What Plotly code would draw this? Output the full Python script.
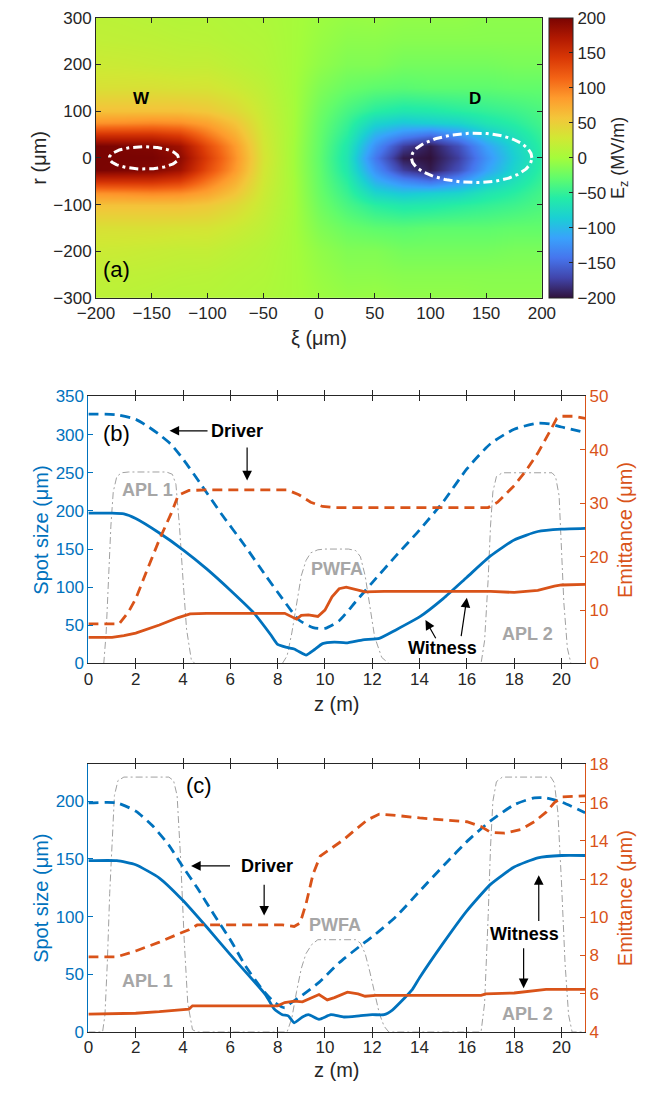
import numpy as np
import plotly.graph_objects as go

W, H = 669, 1098
FONT = "Liberation Sans, Arial, Helvetica, sans-serif"
BLUE = "#0072BD"
ORANGE = "#D95319"
GRAY = "#A0A0A0"
DARK = "#262626"

# ---------------- Panel (a): Ez field (values read on a coarse grid, r >= 0, mirrored) ----------------
xi_vals = [-200, -175, -150, -125, -100, -75, -50, -25, 0, 25, 50, 75, 100, 125, 150, 175, 200]
r_half = [0, 25, 50, 75, 100, 150, 200, 250, 300]
ez_half = [
    [200, 200, 200, 190, 140, 90, 32, 2, -29, -65, -140, -195, -200, -175, -125, -85, -55],
    [200, 198, 195, 180, 130, 85, 30, 2, -28, -62, -125, -175, -195, -165, -115, -80, -52],
    [150, 150, 150, 140, 105, 72, 28, 3, -27, -55, -105, -130, -145, -125, -90, -68, -48],
    [90, 92, 95, 92, 80, 58, 25, 3, -25, -48, -80, -90, -85, -80, -65, -55, -42],
    [60, 60, 60, 60, 55, 42, 22, 3, -22, -40, -55, -62, -60, -55, -50, -45, -38],
    [35, 35, 35, 33, 32, 25, 16, 2, -15, -25, -30, -32, -30, -30, -30, -28, -28],
    [25, 24, 22, 20, 20, 15, 10, 2, -8, -15, -15, -20, -20, -20, -20, -18, -18],
    [18, 17, 16, 14, 13, 10, 8, 2, -5, -10, -10, -12, -12, -12, -12, -12, -12],
    [15, 14, 12, 10, 10, 8, 6, 2, -3, -6, -5, -8, -8, -8, -10, -10, -10],
]
cb_ticks = [-200, -150, -100, -50, 0, 50, 100, 150, 200]

# beam contours: centre xi, left half-width, right half-width, half-height
beam_names = ["W", "D"]
beam_xc = [-157, 142]
beam_left = [31, 59]
beam_right = [31, 49]
beam_hh = [24, 53]

# ---------------- Panel (b) ----------------
bz_drv_spot = [0, 1.2, 2, 2.5, 3, 3.5, 4, 4.8, 5.6, 6.6, 7.5, 8.2, 8.9, 9.5, 10, 10.6, 11.3, 12, 13, 14, 15, 16, 17, 18, 19, 19.5, 20, 21]
b_drv_spot = [327, 326, 320, 311, 300, 287, 268, 233, 197, 155, 115, 85, 57, 47, 46, 56, 81, 106, 141, 175, 212, 255, 288, 307, 315, 314, 310, 303]
bz_wit_spot = [0, 1, 1.5, 2, 3, 4, 5, 6, 7, 7.7, 8, 8.4, 8.7, 9.05, 9.2, 9.55, 9.9, 10.4, 10.9, 11.6, 12.3, 13, 14, 15, 16, 17, 18, 19, 20, 21]
b_wit_spot = [197, 197, 196, 190, 171, 149, 124, 96, 66, 38, 25, 21, 19, 13, 11, 18, 26, 28, 27, 31, 33, 44, 61, 85, 113, 141, 162, 173, 176, 177]
bz_drv_emit = [0, 1.3, 1.7, 2.0, 2.5, 3.0, 3.5, 3.8, 4.25, 5, 8.4, 8.9, 9.4, 9.9, 10.4, 16.9, 17.3, 18, 18.5, 19, 19.5, 19.8, 20, 20.55, 21]
b_drv_emit = [7.4, 7.4, 9.7, 12.1, 17.7, 23.2, 28.1, 31.5, 32.4, 32.5, 32.5, 31.6, 30.2, 29.4, 29.2, 29.2, 30.2, 33.3, 36.1, 39.4, 43.4, 45.9, 46.3, 46.3, 45.9]
bz_wit_emit = [0, 1, 1.5, 2, 3, 3.8, 4.3, 5, 8.3, 8.6, 8.8, 9.0, 9.3, 9.7, 10.0, 10.3, 10.6, 10.9, 11.3, 11.7, 12.5, 16.5, 17, 18, 19, 19.7, 20, 21]
b_wit_emit = [4.9, 4.9, 5.2, 5.7, 7.2, 8.6, 9.3, 9.4, 9.4, 8.8, 8.3, 9.0, 9.1, 8.8, 10.0, 12.5, 14.0, 14.3, 13.8, 13.4, 13.5, 13.6, 13.5, 13.3, 13.7, 14.5, 14.7, 14.8]
bz_prof = [0, 0.65, 0.75, 0.85, 0.95, 1.05, 1.2, 1.4, 1.7, 3.3, 3.55, 3.7, 3.85, 4.0, 4.15, 4.35, 4.5,
           8.2, 8.4, 8.6, 8.8, 9.0, 9.2, 9.4, 9.7, 10.0, 11.0, 11.3, 11.5, 11.7, 11.9, 12.1, 12.4, 12.7,
           16.6, 16.75, 16.9, 17.0, 17.1, 17.25, 17.5, 19.6, 19.75, 19.9, 20.0, 20.1, 20.25, 20.4, 21]
b_prof = [0, 0, 40, 110, 180, 225, 245, 250, 251, 251, 248, 235, 180, 110, 45, 5, 0,
          0, 10, 40, 80, 115, 135, 145, 149, 150, 150, 148, 140, 115, 75, 35, 8, 0,
          0, 30, 110, 180, 225, 245, 250, 250, 245, 220, 150, 80, 20, 0, 0]

# ---------------- Panel (c) ----------------
cz_drv_spot = [0, 1.2, 2.0, 2.7, 3.4, 4.0, 4.6, 5.3, 6.0, 6.65, 7.35, 7.85, 8.3, 8.55, 9.05, 9.75, 10.6, 11.45, 12.15, 13, 14, 15.05, 16.1, 17, 18, 18.85, 19.35, 20.05, 21]
c_drv_spot = [198.6, 198.6, 191.5, 179, 162, 143, 125, 102, 80, 57, 37, 26, 21, 25, 32, 43, 60, 74, 85, 100, 122, 145, 167, 183, 197, 203, 203, 199, 190]
cz_wit_spot = [0, 1.2, 2, 3, 4, 5, 6, 7, 7.5, 7.85, 8.2, 8.45, 8.7, 9.05, 9.3, 9.75, 10.25, 10.8, 11.45, 12, 12.5, 12.85, 13.2, 13.7, 14, 15, 16, 17, 18, 19, 20, 21]
c_wit_spot = [148.5, 148.5, 145, 133.5, 114, 91, 67, 44, 32, 20, 15, 14, 8, 13, 15, 11, 15, 13, 14, 15, 15, 19, 26, 37, 47, 77, 105, 128, 143, 151, 153, 153]
cz_drv_emit = [0, 1.2, 2, 3, 3.75, 4.25, 4.6, 5.6, 8.2, 8.7, 8.95, 9.2, 9.5, 9.8, 10.25, 10.8, 11.3, 11.8, 12.3, 12.85, 14, 16, 16.6, 17, 17.6, 18.3, 18.85, 19.35, 19.7, 20.05, 21]
c_drv_emit = [7.93, 7.93, 8.24, 8.7, 9.1, 9.35, 9.6, 9.6, 9.6, 9.52, 9.7, 10.7, 12.27, 13.2, 13.6, 14.07, 14.6, 15.1, 15.4, 15.35, 15.2, 15.0, 14.75, 14.45, 14.4, 14.6, 15.0, 15.5, 16.0, 16.3, 16.35]
cz_wit_emit = [0, 2, 3, 4, 4.25, 4.4, 6, 8, 8.3, 8.7, 9.05, 9.4, 9.75, 10.1, 10.4, 10.95, 11.4, 11.7, 12.15, 16.6, 16.8, 18, 18.65, 19.35, 21]
c_wit_emit = [4.93, 4.98, 5.06, 5.18, 5.2, 5.37, 5.37, 5.37, 5.54, 5.61, 5.58, 5.75, 5.96, 5.68, 5.8, 6.08, 5.99, 5.87, 5.92, 5.92, 5.99, 6.04, 6.13, 6.23, 6.23]
cz_prof = [0, 0.6, 0.7, 0.8, 0.9, 1.0, 1.1, 1.25, 1.5, 3.4, 3.6, 3.75, 3.9, 4.05, 4.2, 4.4, 4.6,
           8.4, 8.6, 8.8, 9.0, 9.2, 9.45, 9.7, 11.3, 11.5, 11.7, 11.9, 12.1, 12.3, 12.5, 12.7,
           16.6, 16.75, 16.9, 17.0, 17.1, 17.25, 17.5, 19.55, 19.7, 19.85, 20.0, 20.15, 20.3, 20.45, 21]
c_prof = [0, 0, 15, 60, 120, 170, 205, 218, 221, 221, 218, 205, 150, 80, 25, 2, 0,
          0, 12, 35, 55, 68, 76, 80, 80, 77, 68, 52, 34, 16, 5, 0,
          0, 25, 100, 160, 200, 217, 221, 221, 216, 190, 130, 60, 15, 0, 0]

z_ticks = list(range(0, 21, 2))

# ---------------- build figure ----------------
fig = go.Figure()

r_full = [-v for v in r_half[::-1]] + r_half[1:]
ez_full = ez_half[::-1] + ez_half[1:]

fig.add_trace(go.Heatmap(
    x=xi_vals, y=r_full, z=ez_full, zsmooth="best",
    colorscale="Turbo", zmin=-200, zmax=200, xaxis="x", yaxis="y",
    colorbar=dict(
        x=558 / W, xanchor="left", y=1 - 9 / H, yanchor="top",
        len=285 / H, lenmode="fraction", thickness=24, thicknessmode="pixels",
        xpad=0, ypad=0, outlinewidth=1, outlinecolor=DARK,
        tickvals=cb_ticks, ticks="inside", ticklen=4, tickcolor=DARK,
        tickfont=dict(family=FONT, size=17, color=DARK),
        title=dict(text="E<sub>z</sub> (MV/m)", side="right",
                   font=dict(family=FONT, size=18, color=DARK)),
    ),
    showscale=True,
))

t = np.linspace(0, 2 * np.pi, 200)
for i in range(len(beam_names)):
    half_w = np.where(np.cos(t) >= 0, beam_right[i], beam_left[i])
    ex = beam_xc[i] + half_w * np.cos(t)
    ey = beam_hh[i] * np.sin(t)
    fig.add_trace(go.Scatter(x=ex, y=ey, mode="lines", xaxis="x", yaxis="y",
                             line=dict(color="white", width=3, dash="9px,4px,3px,4px"),
                             showlegend=False, hoverinfo="skip"))

def add_panel(xa, yl, yr, zp, prof, zds, dspot, zws, wspot, zde, demit, zwe, wemit):
    fig.add_trace(go.Scatter(x=zp, y=prof, mode="lines", xaxis=xa, yaxis=yl,
                             line=dict(color=GRAY, width=1, dash="7px,3px,2px,3px"),
                             showlegend=False))
    fig.add_trace(go.Scatter(x=zds, y=dspot, mode="lines", xaxis=xa, yaxis=yl,
                             line=dict(color=BLUE, width=2.8, dash="10px,6px", shape="spline", smoothing=0.6),
                             showlegend=False))
    fig.add_trace(go.Scatter(x=zws, y=wspot, mode="lines", xaxis=xa, yaxis=yl,
                             line=dict(color=BLUE, width=2.8, shape="spline", smoothing=0.5),
                             showlegend=False))
    fig.add_trace(go.Scatter(x=zde, y=demit, mode="lines", xaxis=xa, yaxis=yr,
                             line=dict(color=ORANGE, width=2.8, dash="10px,6px"),
                             showlegend=False))
    fig.add_trace(go.Scatter(x=zwe, y=wemit, mode="lines", xaxis=xa, yaxis=yr,
                             line=dict(color=ORANGE, width=2.8),
                             showlegend=False))

add_panel("x2", "y2", "y3", bz_prof, b_prof, bz_drv_spot, b_drv_spot, bz_wit_spot, b_wit_spot,
          bz_drv_emit, b_drv_emit, bz_wit_emit, b_wit_emit)
add_panel("x3", "y4", "y5", cz_prof, c_prof, cz_drv_spot, c_drv_spot, cz_wit_spot, c_wit_spot,
          cz_drv_emit, c_drv_emit, cz_wit_emit, c_wit_emit)

tickf = dict(family=FONT, size=17, color=DARK)
titlef = dict(family=FONT, size=20, color=DARK)

common_x = dict(ticks="inside", ticklen=5, tickcolor=DARK, showline=True, linecolor=DARK,
                linewidth=1, mirror="allticks", showgrid=False, zeroline=False, tickfont=tickf)

ax_b = [0.10912, 0.89013]
layout = dict(
    width=W, height=H, margin=dict(l=0, r=0, t=0, b=0),
    paper_bgcolor="white", plot_bgcolor="white", showlegend=False,
    font=dict(family=FONT, color=DARK),
    xaxis=dict(domain=[81 / W, 550 / W], anchor="y", range=[-200, 200],
               tickvals=[-200, -150, -100, -50, 0, 50, 100, 150, 200],
               title=dict(text="ξ (μm)", font=titlef, standoff=8), **common_x),
    yaxis=dict(domain=[1 - 294 / H, 1 - 9 / H], anchor="x", range=[-300, 300],
               tickvals=[-300, -200, -100, 0, 100, 200, 300],
               title=dict(text="r (μm)", font=titlef, standoff=1), **common_x),
    xaxis2=dict(domain=ax_b, anchor="y2", range=[0, 21], tickvals=z_ticks,
                title=dict(text="z (m)", font=titlef, standoff=9), **common_x),
    yaxis2=dict(domain=[1 - 666 / H, 1 - 394.3 / H], anchor="x2", range=[0, 350], dtick=50,
                ticks="inside", ticklen=5, tickcolor=BLUE, showline=True, linecolor=BLUE,
                showgrid=False, zeroline=False, tickfont=dict(family=FONT, size=17, color=BLUE),
                title=dict(text="Spot size (μm)", font=dict(family=FONT, size=20, color=BLUE), standoff=1)),
    yaxis3=dict(overlaying="y2", anchor="x2", side="right", range=[0, 50], dtick=10,
                ticks="inside", ticklen=5, tickcolor=ORANGE, showline=True, linecolor=ORANGE,
                showgrid=False, zeroline=False, tickfont=dict(family=FONT, size=17, color=ORANGE),
                title=dict(text="Emittance (μm)", font=dict(family=FONT, size=20, color=ORANGE), standoff=10)),
    xaxis3=dict(domain=ax_b, anchor="y4", range=[0, 21], tickvals=z_ticks,
                title=dict(text="z (m)", font=titlef, standoff=6), **common_x),
    yaxis4=dict(domain=[1 - 1041 / H, 1 - 768.7 / H], anchor="x3", range=[0, 232], tickvals=[0, 50, 100, 150, 200],
                ticks="inside", ticklen=5, tickcolor=BLUE, showline=True, linecolor=BLUE,
                showgrid=False, zeroline=False, tickfont=dict(family=FONT, size=17, color=BLUE),
                title=dict(text="Spot size (μm)", font=dict(family=FONT, size=20, color=BLUE), standoff=1)),
    yaxis5=dict(overlaying="y4", anchor="x3", side="right", range=[4, 18], dtick=2,
                ticks="inside", ticklen=5, tickcolor=ORANGE, showline=True, linecolor=ORANGE,
                showgrid=False, zeroline=False, tickfont=dict(family=FONT, size=17, color=ORANGE),
                title=dict(text="Emittance (μm)", font=dict(family=FONT, size=20, color=ORANGE), standoff=10)),
)
fig.update_layout(**layout)

ann = []
def txt(x, y, s, xr, yr, size=18, bold=True, color="black"):
    ann.append(dict(x=x, y=y, xref=xr, yref=yr, text=(f"<b>{s}</b>" if bold else s), showarrow=False,
                    font=dict(family=FONT, size=size, color=color), xanchor="center", yanchor="middle"))
def arrow(xh, yh, xt, yt, xr, yr):
    ann.append(dict(x=xh, y=yh, ax=xt, ay=yt, xref=xr, yref=yr, axref=xr, ayref=yr, text="",
                    showarrow=True, arrowhead=2, arrowsize=1.6, arrowwidth=1.2, arrowcolor="black", standoff=0))

GTXT = "#A6A6A6"
# panel (a)
txt(-159, 128, "W", "x", "y", size=17)
txt(140, 128, "D", "x", "y", size=17)
txt(-182, -240, "(a)", "x", "y", size=22, bold=False)

# panel (b)
txt(1.17, 302, "(b)", "x2", "y2", size=22, bold=False)
txt(6.3, 305, "Driver", "x2", "y2")
arrow(3.43, 305, 5.1, 305, "x2", "y2")
arrow(6.71, 240, 6.71, 285, "x2", "y2")
txt(2.5, 228, "APL 1", "x2", "y2", color=GTXT)
txt(10.5, 124, "PWFA", "x2", "y2", color=GTXT)
txt(18.57, 38, "APL 2", "x2", "y2", color=GTXT)
txt(14.97, 20.6, "Witness", "x2", "y2")
arrow(14.25, 57, 14.72, 31, "x2", "y2")
arrow(16.0, 86, 15.75, 34, "x2", "y2")

# panel (c)
txt(4.68, 214, "(c)", "x3", "y4", size=22, bold=False)
txt(7.55, 144, "Driver", "x3", "y4")
arrow(4.34, 144, 6.05, 144, "x3", "y4")
arrow(7.43, 101, 7.43, 129, "x3", "y4")
txt(10.43, 92.5, "PWFA", "x3", "y4", color=GTXT)
txt(2.5, 44.4, "APL 1", "x3", "y4", color=GTXT)
txt(18.57, 15.3, "APL 2", "x3", "y4", color=GTXT)
txt(18.45, 85, "Witness", "x3", "y4")
arrow(19.04, 136, 19.04, 95, "x3", "y4")
arrow(18.4, 38, 18.4, 74, "x3", "y4")

fig.update_layout(annotations=ann)
fig.write_html("out.html")
